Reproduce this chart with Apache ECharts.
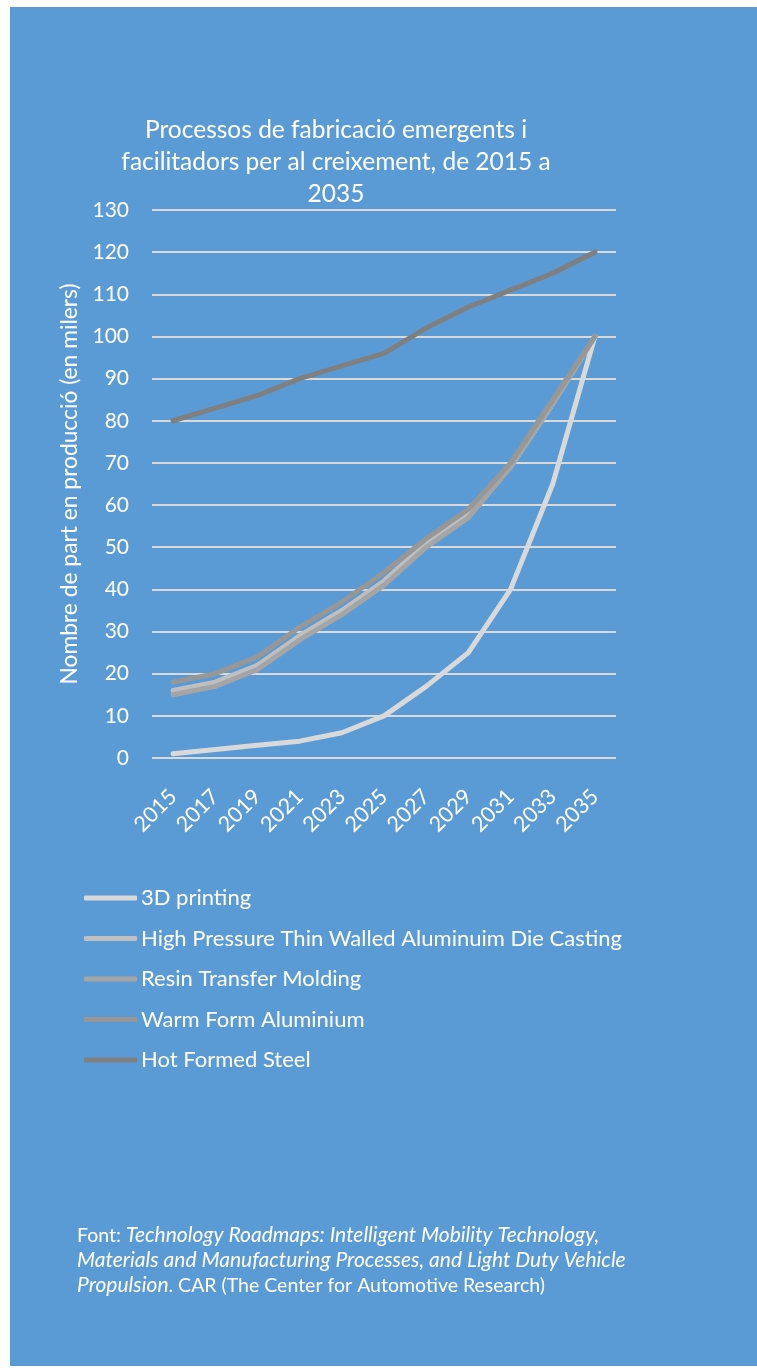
<!DOCTYPE html>
<html>
<head>
<meta charset="utf-8">
<script src="https://cdn.jsdelivr.net/npm/echarts@6/dist/echarts.min.js"></script>
<style>
  html, body { margin: 0; padding: 0; background: #ffffff; }
  #panel { position: absolute; left: 10px; top: 7px; width: 747px; height: 1359px; background: #5B9BD5; }
  #chart { position: absolute; left: 0; top: 0; width: 757px; height: 1370px; }
</style>
</head>
<body>
<div id="panel"></div>
<div id="chart"></div>
<script>
const years = ['2015','2017','2019','2021','2023','2025','2027','2029','2031','2033','2035'];
const seriesNames = ['3D printing','High Pressure Thin Walled Aluminuim Die Casting','Resin Transfer Molding','Warm Form Aluminium','Hot Formed Steel'];
const printing3D = [1, 2, 3, 4, 6, 10, 17, 25, 40, 65, 100];
const highPressureDieCasting = [16, 18, 22, 29, 35, 42, 51, 58, 69, 84, 100];
const resinTransferMolding = [15, 17, 21, 28, 34, 41, 50, 57, 69, 84, 100];
const warmFormAluminium = [18, 20, 24, 31, 37, 44, 52, 59, 70, 85, 100];
const hotFormedSteel = [80, 83, 86, 90, 93, 96, 102, 107, 111, 115, 120];
const seriesValues = [printing3D, highPressureDieCasting, resinTransferMolding, warmFormAluminium, hotFormedSteel];
const seriesColors = ['#d9d9d9', '#bfbfbf', '#a5a5a5', '#979797', '#7f7f7f'];

const FONT = 'Lato';
const chart = echarts.init(document.getElementById('chart'), null, { renderer: 'canvas' });

chart.setOption({
  backgroundColor: 'transparent',
  textStyle: { fontFamily: FONT },
  title: {
    text: 'Processos de fabricació emergents i\nfacilitadors per al creixement, de 2015 a\n2035',
    left: 336, top: 114, textAlign: 'center', padding: 0,
    textStyle: { color: '#ffffff', fontSize: 24.5, fontWeight: 'normal', fontFamily: FONT, lineHeight: 32 }
  },
  grid: { left: 152, right: 141, top: 210, bottom: 612, containLabel: false },
  legend: {
    orient: 'vertical', left: 84, top: 887, padding: 0,
    itemWidth: 53, itemHeight: 5, itemGap: 18.5,
    icon: 'roundRect',
    textStyle: { color: '#ffffff', fontSize: 22, lineHeight: 22, fontFamily: FONT, padding: [0, 0, 0, -1] },
    data: seriesNames
  },
  xAxis: {
    type: 'category', data: years, boundaryGap: true,
    axisLine: { show: false }, axisTick: { show: false },
    axisLabel: { color: '#ffffff', fontSize: 21.5, rotate: 45, margin: 35, interval: 0, fontFamily: FONT }
  },
  yAxis: {
    type: 'value', min: 0, max: 130, interval: 10,
    name: 'Nombre de part en producció (en milers)', nameLocation: 'middle', nameGap: 70,
    nameTextStyle: { color: '#ffffff', fontSize: 22.8, fontFamily: FONT },
    axisLine: { show: false }, axisTick: { show: false },
    axisLabel: { color: '#ffffff', fontSize: 21, margin: 23, fontFamily: FONT },
    splitLine: { lineStyle: { color: '#d9d9d9', width: 2 } }
  },
  series: seriesNames.map((n, i) => ({
    name: n, type: 'line', data: seriesValues[i],
    showSymbol: false, symbol: 'none', smooth: false,
    lineStyle: { color: seriesColors[i], width: 5, cap: 'round', join: 'round' },
    itemStyle: { color: seriesColors[i] },
    emphasis: { disabled: true },
    z: 2 + i
  })),
  graphic: [{
    type: 'text', left: 77, top: 1225,
    style: {
      text: '{n|Font: }{i|Technology Roadmaps: Intelligent Mobility Technology,}\n{i|Materials and Manufacturing Processes, and Light Duty Vehicle}\n{i|Propulsion}{n|. CAR (The Center for Automotive Research)}',
      fill: '#ffffff',
      rich: {
        n: { fontSize: 19.5, fontFamily: FONT, fill: '#ffffff', lineHeight: 25 },
        i: { fontSize: 21, fontFamily: FONT, fontStyle: 'italic', fill: '#ffffff', lineHeight: 25 }
      }
    }
  }],
  animation: false
});
</script>
</body>
</html>
